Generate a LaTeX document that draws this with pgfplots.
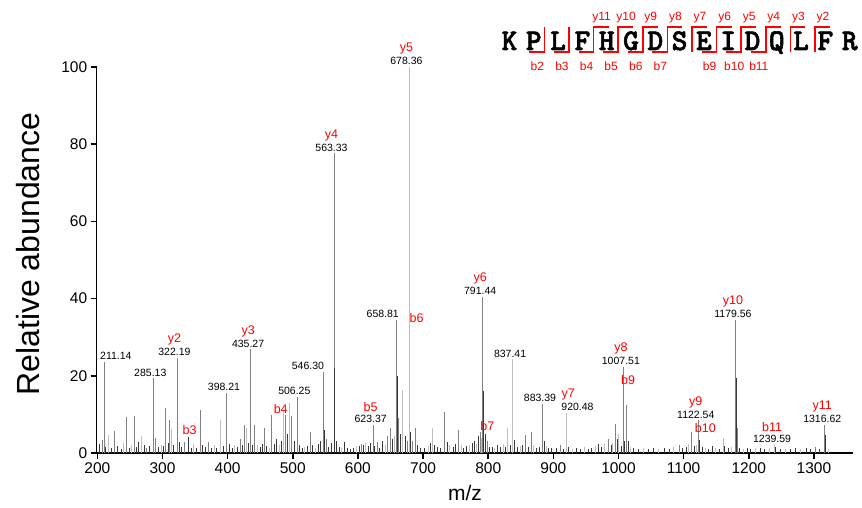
\documentclass[border=0pt]{standalone}
\usepackage{pgfplots}
\pgfplotsset{compat=1.18}
\usepackage{fontspec}
\setmainfont{Liberation Sans}
% heavy typewriter face for the peptide sequence
\newfontfamily\seqfont{lmmonolt10-bold.otf}[FakeBold=2]

% light, medium and dark stick colours of the centroided spectrum
\colorlet{pkLight}{black!25}
\colorlet{pkMid}{black!50}
\colorlet{pkDark}{black!78}

\tikzset{
  vlab/.style={font=\fontsize{10.5}{12}\selectfont, anchor=base, inner sep=0pt, yshift=2pt, xshift=-2.5pt},
  ion/.style={font=\fontsize{12.5}{14}\selectfont, text=red, anchor=base, inner sep=0pt, yshift=15pt, xshift=-2.5pt},
  bion/.style={font=\fontsize{12.5}{14}\selectfont, text=red, anchor=center, inner sep=0pt},
}

\begin{document}
\begin{tikzpicture}
\path[use as bounding box] (0pt,0pt) rectangle (862pt,507pt);

\begin{axis}[
  at={(96.7pt,54pt)}, anchor=south west,
  scale only axis, width=756.3pt, height=386pt,
  xmin=199, xmax=1360, ymin=0, ymax=100,
  clip=false,
  axis lines*=left,
  axis line style={-, line width=1.5pt, black},
  xtick={200,300,...,1300}, ytick={0,20,...,100},
  tick align=outside, major tick length=6pt,
  tick style={line width=1.5pt, black},
  /pgf/number format/assume math mode=true,
  /pgf/number format/1000 sep={},
  tick label style={font=\fontsize{15.5}{18}\selectfont},
  xlabel={m/z},
  xlabel style={font=\fontsize{21}{24}\selectfont, at={(axis description cs:0.487,-0.1036)}, anchor=center},
  ylabel={Relative abundance},
  ylabel style={font=\fontsize{32}{36}\selectfont, at={(axis description cs:-0.0908,0.5155)}, anchor=center},
]

% light sticks
\addplot[ycomb, draw=pkLight, line width=0.9pt] table {
216.9 4.7
240.2 2.6
252 2.0
267 4.4
297.8 2.2
313 6.2
348 2.3
379 2.0
388.4 8.5
411 2.0
429 6.6
445 2.0
463.5 1.4
479.5 2.0
486.31 11.1
494.7 12.9
518 1.5
534.3 1.4
575 1.2
597.2 1.7
611.5 2.6
641.8 2.2
655.6 4.5
668.8 16.3
678.36 100
707.5 1.8
714.8 6.4
741 2.0
758.5 2.1
771.5 2.2
781.5 2.4
789.3 4
810 1.3
822.7 2.4
829.4 6.4
837.41 24.3
849.5 1.8
869 2.0
889.6 1.8
920.48 10.4
929 1.0
947 1.5
964.5 1.8
978 2.3
991 2.6
1000.5 5
1018 1.5
1038 1.4
1062 1.0
1085 1.5
1108 2.4
1119.5 2.0
1133 1.2
1149 1.2
1160.9 3.8
1173 1.5
1192 1.0
1210 1.3
1232 1.2
1239.59 2.3
1256 1.1
1280 1.0
1322 1.0
};

% medium sticks
\addplot[ycomb, draw=pkMid, line width=0.6pt] table {
207.7 3.4
211.14 23.6
226.2 5.7
244.5 9.2
256.8 9.7
275 1.2
285.13 19.4
289.6 3.9
305 11.7
310.6 8.5
322.19 24.7
333.6 2.9
357.6 11.1
370 2.9
398.21 15.6
419 3.5
425.7 7.3
435.27 26.9
441.6 7.3
456.4 6.6
467.7 9.8
489 9.8
498.4 9.6
506.25 14.6
526.5 5.5
546.30 21.0
551 3.5
563.33 77.7
605 2.4
623.37 7.3
629.5 2.8
645 4.5
649.3 6.6
658.81 34.5
662.5 9
675.5 3
683 3.2
687.7 6.4
732.7 10.7
754 6.0
787.5 5.5
791.44 40.5
798 3.2
856.5 4.7
865.7 5.5
883.39 12.7
910 2.0
984.4 3.6
994.6 7.6
1007.51 22.3
1011.49 12.4
1093 2.0
1111.3 5.5
1122.54 8.5
1179.56 34.5
1182 6.4
1301.6 1.5
1316.62 7.3
};

% dark sticks
\addplot[ycomb, draw=pkDark, line width=0.6pt] table {
203.5 2.4
212.6 1.5
221 1.2
230.5 1.8
236 1.0
248.8 1.4
260.5 1.5
263.2 2.8
271.4 2.0
279.5 1.8
293.4 1.6
301.5 1.8
308.2 2.5
317.2 2.0
326 2.9
329.5 1.5
339.24 4.2
343.7 1.2
352.6 1.4
361 2.0
365.3 1.6
374.5 1.3
383.2 1.4
393 1.9
402.5 2.4
406.5 1.4
415 1.6
422.5 2.0
432 2.6
438.5 2.2
449.5 1.5
453 2.4
460 1.8
471 2.4
475 3.5
483 3.1
491.7 5.0
502.5 3.0
510.5 2.2
514 1.3
522 1.8
530 2.0
538.5 2.4
542.6 3.2
548 6.0
554.8 1.5
559.5 2.5
564.4 22
567 3.0
571 1.5
579 2.9
583.6 1.2
588 1.0
593 1.4
601.5 1.8
609 2.0
615.8 1.7
619.5 2.5
625.4 1.8
633 1.4
637.5 3.0
653 3.5
660.3 20
664.8 5.0
672 4.5
680.39 5.5
691.5 2.2
695.3 1.4
702 1.2
711 2.5
718 2.2
722.5 1.5
727 1.4
736.5 2.8
746.2 1.5
750 2.4
762 1.3
767 1.8
775 2.6
778.5 3.0
784.5 4.5
792.4 16
795.42 5.0
801.5 1.5
806.5 1.6
813.5 2.0
818 1.5
826 1.6
833.3 2.2
840 3.3
845 1.5
853 2.2
861 1.5
874 1.4
878.5 1.6
885.5 3.0
893 1.2
897.5 1.4
904 1.2
915 1.0
923 1.6
935 1.3
941 1.0
953 1.1
959 1.4
969 2.4
973.6 1.6
988.5 2.2
997.8 3.5
1004 1.8
1009 3.0
1014.5 3.0
1022 1.2
1030 1.0
1046 1.0
1054 1.2
1070 1.3
1078 1.0
1098 1.3
1103.5 1.6
1116 1.8
1124.58 3.4
1128 1.5
1138 1.0
1144 1.7
1154 1.0
1162.5 1.8
1168 1.2
1180.5 19.4
1186 1.2
1198 1.2
1203 1.0
1217 1.2
1224 1.0
1241 1.5
1248 1.0
1264 1.0
1272 1.2
1288 1.2
1294 1.0
1309 1.0
1318 4.7
};

% m/z values of the annotated peaks
\node[vlab, xshift=13.8pt] at (axis cs:211.14,23.6) {211.14};
\node[vlab] at (axis cs:285.13,19.4) {285.13};
\node[vlab] at (axis cs:322.19,24.7) {322.19};
\node[vlab] at (axis cs:398.21,15.6) {398.21};
\node[vlab] at (axis cs:435.27,26.9) {435.27};
\node[vlab] at (axis cs:506.25,14.6) {506.25};
\node[vlab, xshift=-12.5pt] at (axis cs:546.30,21.0) {546.30};
\node[vlab] at (axis cs:563.33,77.7) {563.33};
\node[vlab] at (axis cs:623.37,7.3) {623.37};
\node[vlab, xshift=-11pt] at (axis cs:658.81,34.5) {658.81};
\node[vlab] at (axis cs:678.36,100) {678.36};
\node[vlab] at (axis cs:791.44,40.5) {791.44};
\node[vlab] at (axis cs:837.41,24.3) {837.41};
\node[vlab] at (axis cs:883.39,12.7) {883.39};
\node[vlab, xshift=13.3pt] at (axis cs:920.48,10.4) {920.48};
\node[vlab] at (axis cs:1007.51,22.3) {1007.51};
\node[vlab] at (axis cs:1122.54,8.5) {1122.54};
\node[vlab] at (axis cs:1179.56,34.5) {1179.56};
\node[vlab] at (axis cs:1239.59,2.3) {1239.59};
\node[vlab] at (axis cs:1316.62,7.3) {1316.62};

% fragment ion assignments
\node[ion] at (axis cs:322.19,24.7) {y2};
\node[ion] at (axis cs:435.27,26.9) {y3};
\node[ion] at (axis cs:563.33,77.7) {y4};
\node[ion] at (axis cs:678.36,100) {y5};
\node[ion] at (axis cs:791.44,40.5) {y6};
\node[ion, xshift=4pt] at (axis cs:920.48,10.4) {y7};
\node[ion] at (axis cs:1007.51,22.3) {y8};
\node[ion] at (axis cs:1122.54,8.5) {y9};
\node[ion] at (axis cs:1179.56,34.5) {y10};
\node[ion] at (axis cs:1316.62,7.3) {y11};
\node[ion, yshift=-2pt] at (axis cs:623.37,7.3) {b5};
\node[ion, yshift=-2pt] at (axis cs:1239.59,2.3) {b11};
\node[bion] at (axis cs:341.5,6.0) {b3};
\node[bion] at (axis cs:481.5,11.3) {b4};
\node[bion] at (axis cs:690.2,35) {b6};
\node[bion] at (axis cs:798.6,7.0) {b7};
\node[bion] at (axis cs:1014.8,18.9) {b9};
\node[bion] at (axis cs:1133.4,6.4) {b10};
\end{axis}

% peptide sequence with b/y cleavage markers
\foreach \c [count=\i from 0] in {K,P,L,F,H,G,D,S,E,I,D,Q,L,F,R}
  \node[anchor=base, inner sep=0pt, font=\fontsize{30}{32}\seqfont]
    at ({509.5pt+24.3pt*\i},457pt) {\c};
\foreach \k in {2,...,13}
  \draw[red, line width=1.6pt] ({495.1pt+24.61pt*\k},455pt) -- ++(0pt,25pt);
\foreach \k in {2,3,4,5,6,7,9,10,11} {
  \draw[red, line width=1.6pt] ({495.1pt+24.61pt*\k+0.8pt},455pt) -- ++(-15.8pt,0pt);
  \node[anchor=base, inner sep=0pt, text=red, font=\fontsize{12}{14}\selectfont]
    at ({495.1pt+24.61pt*\k-7pt},436.3pt) {b\k};
}
\foreach \k in {4,...,13} {
  \pgfmathtruncatemacro\n{15-\k}
  \draw[red, line width=1.6pt] ({495.1pt+24.61pt*\k-0.8pt},480pt) -- ++(15.8pt,0pt);
  \node[anchor=base, inner sep=0pt, text=red, font=\fontsize{12}{14}\selectfont]
    at ({495.1pt+24.61pt*\k+8pt},486.3pt) {y\n};
}
\end{tikzpicture}
\end{document}
